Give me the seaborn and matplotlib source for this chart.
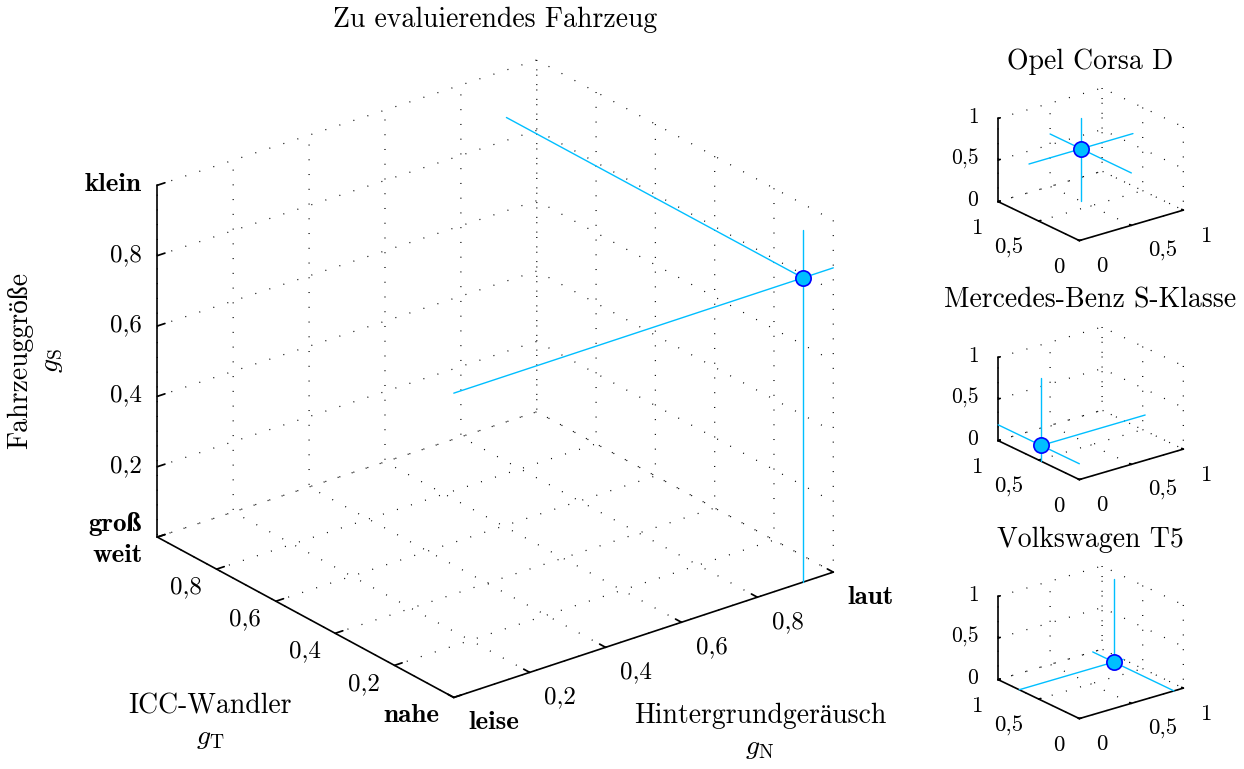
import numpy as np
import matplotlib
matplotlib.use('Agg')
import matplotlib.pyplot as plt
import seaborn as sns

sns.set_theme(style='white')
plt.rcParams['font.family'] = ['cmr10', 'Liberation Serif']
plt.rcParams['mathtext.fontset'] = 'cm'
plt.rcParams['axes.formatter.use_mathtext'] = True
plt.rcParams['axes.unicode_minus'] = False
for k in ('text.color', 'axes.labelcolor', 'xtick.color', 'ytick.color'):
    plt.rcParams[k] = 'black'

# ---------------- data ----------------
main_title = 'Zu evaluierendes Fahrzeug'
main_gN = [0.92]
main_gT = [0.0]
main_gS = [0.865]

car_names = ['Opel Corsa D', 'Mercedes-Benz S-Klasse', 'Volkswagen T5']
car_gN = [0.50, 0.00, 0.91]
car_gT = [0.62, 0.47, 0.74]
car_gS = [0.63, 0.19, 0.00]

main_ticks = [0, 0.2, 0.4, 0.6, 0.8, 1]
gN_ticklabels = ['leise', '0,2', '0,4', '0,6', '0,8', 'laut']
gT_ticklabels = ['nahe', '0,2', '0,4', '0,6', '0,8', 'weit']
gS_ticklabels = ['groß', '0,2', '0,4', '0,6', '0,8', 'klein']

small_ticks = [0, 0.5, 1]
small_ticklabels = ['0', '0,5', '1']

LINE_C = '#00BFFF'
FACE_C = '#00BFFF'
EDGE_C = '#0000FF'

W, H = 1244, 769


def px_rect(cx, cy, side):
    """axes rect (figure fraction) of a square of `side` px centred at (cx, cy) px from top-left"""
    return [(cx - side / 2) / W, (H - cy - side / 2) / H, side / W, side / H]


def style3d(ax, ticks, lx, ly, lz, fs, elev, azim, pads, vas,
            bold_ends=False, bold_fs=None):
    ax.set_proj_type('ortho')
    ax.view_init(elev=elev, azim=azim)
    ax.set_facecolor('none')
    ax.set_xlim(0, 1)
    ax.set_ylim(0, 1)
    ax.set_zlim(0, 1)
    for axis in (ax.xaxis, ax.yaxis, ax.zaxis):
        axis.set_pane_color((1, 1, 1, 0))
        axis.pane.set_edgecolor((1, 1, 1, 0))
        axis._axinfo['grid'].update(color='black', linewidth=0.9,
                                    linestyle=(0, (0.8, 11)))
        axis._axinfo['tick'].update(inward_factor=0.0, outward_factor=0.25)
        axis._axinfo['axisline']['color'] = 'black'
        axis.line.set_color('black')
        axis.line.set_linewidth(1.2)
    ax.set_xticks(ticks)
    ax.set_yticks(ticks)
    ax.set_zticks(ticks)
    ax.set_xticklabels(lx, fontsize=fs[0], ha='left', va=vas[0])
    ax.set_yticklabels(ly, fontsize=fs[1], ha='right', va=vas[1])
    ax.set_zticklabels(lz, fontsize=fs[2], ha='right', va='center')
    ax.tick_params(axis='x', pad=pads[0], colors='black')
    ax.tick_params(axis='y', pad=pads[1], colors='black')
    ax.tick_params(axis='z', pad=pads[2], colors='black')
    if bold_ends:
        for labs in (ax.get_xticklabels(), ax.get_yticklabels(),
                     ax.get_zticklabels()):
            for t in (labs[0], labs[-1]):
                t.set_family(['cmb10', 'Liberation Serif'])
                t.set_fontweight('bold')
                t.set_fontsize(bold_fs)
        ax.get_zticklabels()[0].set_va('bottom')
    ax.grid(True)


def draw_point(ax, gN, gT, gS, ms):
    for n, t, s in zip(gN, gT, gS):
        ax.plot([0, 1], [t, t], [s, s], color=LINE_C, lw=1.0, clip_on=False)
        ax.plot([n, n], [0, 1], [s, s], color=LINE_C, lw=1.0, clip_on=False)
        ax.plot([n, n], [t, t], [0, 1], color=LINE_C, lw=1.0, clip_on=False)
        ax.plot([n], [t], [s], 'o', ms=ms, mfc=FACE_C, mec=EDGE_C, mew=1.2,
                clip_on=False)


fig = plt.figure(figsize=(W / 100, H / 100), dpi=100)

ax = fig.add_axes(px_rect(485, 389, 761), projection='3d')
style3d(ax, main_ticks, gN_ticklabels, gT_ticklabels, gS_ticklabels,
        (18, 18, 18), elev=25, azim=-128, pads=(6, 3, -1.5),
        vas=('center', 'center'), bold_ends=True, bold_fs=19.5)
ax.set_box_aspect((1, 1, 0.806), zoom=1.0)
draw_point(ax, main_gN, main_gT, main_gS, 11)

fig.text(495 / W, 1 - 20 / H, main_title, ha='center', va='center', fontsize=20)
fig.text(36 / W, 1 - 360 / H, 'Fahrzeuggröße\n$g_\\mathrm{S}$', rotation=90,
         ha='center', va='center', fontsize=20, multialignment='center')
fig.text(210 / W, 1 - 722 / H, 'ICC-Wandler\n$g_\\mathrm{T}$', ha='center',
         va='center', fontsize=20, multialignment='center')
fig.text(760 / W, 1 - 732 / H, 'Hintergrundgeräusch\n$g_\\mathrm{N}$',
         ha='center', va='center', fontsize=20, multialignment='center')

small_cy = [167, 406, 645]
title_cy = [62, 300, 540]
for i, name in enumerate(car_names):
    sax = fig.add_axes(px_rect(1088, small_cy[i], 201), projection='3d')
    style3d(sax, small_ticks, small_ticklabels, small_ticklabels,
            small_ticklabels, (16.5, 16.5, 15.5), elev=22, azim=-128,
            pads=(8, 3, 0), vas=('center', 'top'))
    sax.set_box_aspect((1, 1, 0.68), zoom=1.0)
    draw_point(sax, [car_gN[i]], [car_gT[i]], [car_gS[i]], 11)
    fig.text(1090 / W, 1 - title_cy[i] / H, name, ha='center', va='center',
             fontsize=20)

fig.savefig('out.png', dpi=100)
